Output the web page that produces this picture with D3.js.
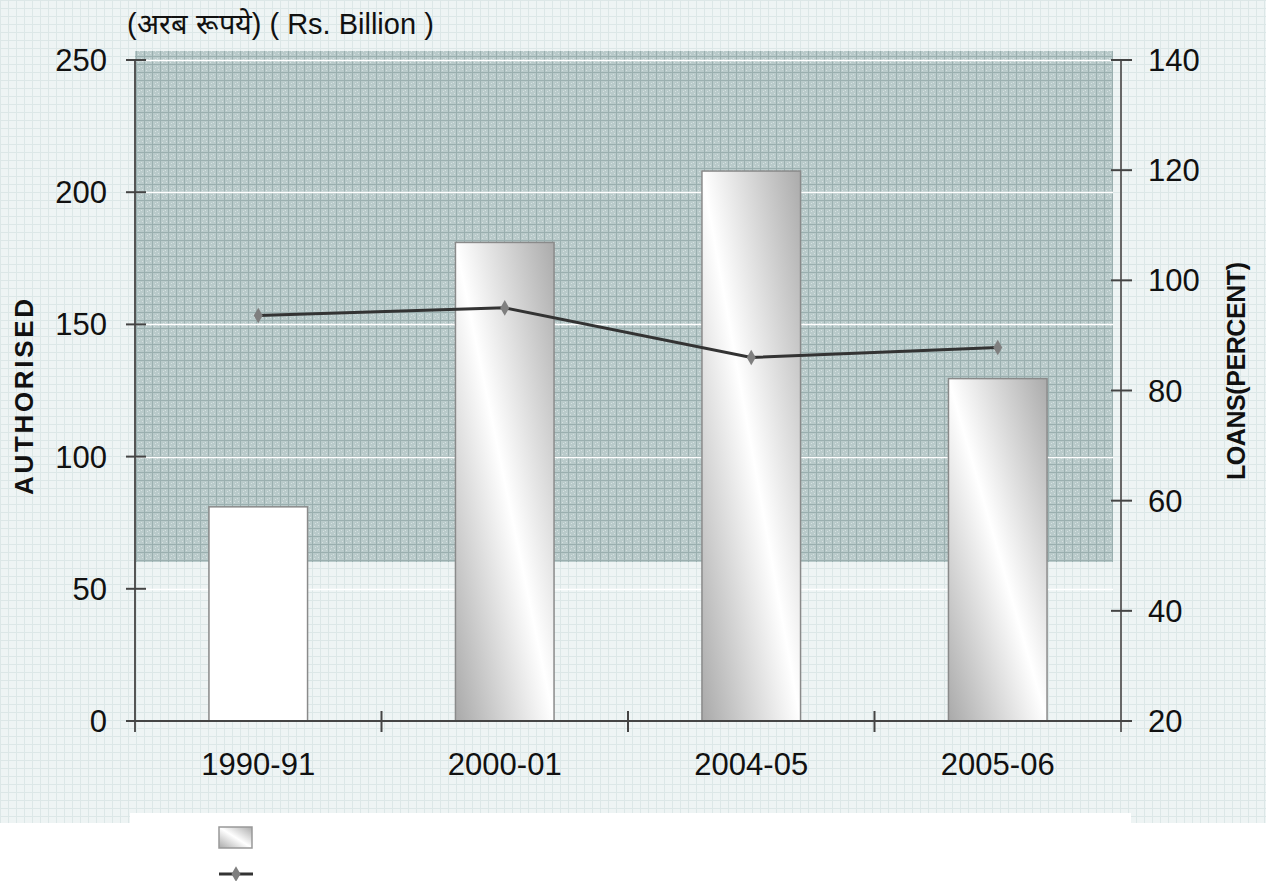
<!DOCTYPE html>
<html>
<head>
<meta charset="utf-8">
<script src="https://cdn.jsdelivr.net/npm/d3@7"></script>
<style>
  body { margin: 0; background: #fff; }
  svg { display: block; font-family: "Liberation Sans", Arial, sans-serif; }
</style>
</head>
<body>
<svg id="chart" width="1266" height="881"></svg>
<script>
const width = 1266;
const height = 881;

// data
const years = ["1990-91", "2000-01", "2004-05", "2005-06"];
const authorised = [81, 181, 208, 129.5];
const loansPct = [93.6, 95.0, 86.0, 87.8];
const leftTicks = [0, 50, 100, 150, 200, 250];
const rightTicks = [20, 40, 60, 80, 100, 120, 140];

const svg = d3.select("#chart");
const defs = svg.append("defs");

// light grid paper behind everything
const light = defs.append("pattern")
    .attr("id", "lightGrid")
    .attr("width", 8).attr("height", 8)
    .attr("patternUnits", "userSpaceOnUse");
light.append("rect").attr("width", 8).attr("height", 8).attr("fill", "#eef4f4");
light.append("path").attr("d", "M0 0.5H8M0.5 0V8").attr("stroke", "#dce7e7").attr("stroke-width", 1);

// darker grid inside the plot
const dark = defs.append("pattern")
    .attr("id", "darkGrid")
    .attr("width", 8).attr("height", 8)
    .attr("patternUnits", "userSpaceOnUse");
dark.append("rect").attr("width", 8).attr("height", 8).attr("fill", "#b9caca");
dark.append("path").attr("d", "M0 0.5H8M0.5 0V8").attr("stroke", "#9aafaf").attr("stroke-width", 1);
dark.append("path").attr("d", "M3 3h1v1h-1zM6 5h1v1h-1zM2 6h1v1h-1zM5 2h1v1h-1z").attr("fill", "#d6e1e1");

// shaded bar fill
const grad = defs.append("linearGradient")
    .attr("id", "barGrad")
    .attr("x1", 0).attr("y1", 1).attr("x2", 1).attr("y2", 0);
grad.append("stop").attr("offset", 0).attr("stop-color", "#a9a9a9");
grad.append("stop").attr("offset", 0.5).attr("stop-color", "#ffffff");
grad.append("stop").attr("offset", 1).attr("stop-color", "#ababab");

// background
svg.append("rect").attr("width", width).attr("height", 823).attr("fill", "url(#lightGrid)");
svg.append("rect").attr("x", 130).attr("y", 813).attr("width", 1001).attr("height", 68).attr("fill", "#fff");

const plotLeft = 135, plotRight = 1121;
const x = d3.scaleBand()
    .domain(years)
    .range([plotLeft, plotRight])
    .paddingInner(0.6)
    .paddingOuter(0.3);

const yL = d3.scaleLinear().domain([0, 250]).range([721, 60]);
const yR = d3.scaleLinear().domain([20, 140]).range([721, 60]);

// shaded plot area
svg.append("rect")
    .attr("x", plotLeft).attr("y", 51)
    .attr("width", 1113 - plotLeft).attr("height", 562 - 51)
    .attr("fill", "url(#darkGrid)");

// gridlines
svg.append("g")
    .selectAll("line")
    .data(leftTicks.filter(d => d > 0))
    .join("line")
    .attr("x1", plotLeft).attr("x2", 1113)
    .attr("y1", d => Math.round(yL(d)) + 0.5)
    .attr("y2", d => Math.round(yL(d)) + 0.5)
    .attr("stroke", "#ffffff")
    .attr("stroke-width", 1.5);

// bars
svg.append("g")
    .selectAll("rect")
    .data(years)
    .join("rect")
    .attr("x", d => x(d))
    .attr("width", x.bandwidth())
    .attr("y", (d, i) => yL(authorised[i]))
    .attr("height", (d, i) => yL(0) - yL(authorised[i]))
    .attr("fill", (d, i) => i === 0 ? "#ffffff" : "url(#barGrad)")
    .attr("stroke", "#8a8a8a")
    .attr("stroke-width", 1.5);

// axes (cross ticks like the original)
const axisG = svg.append("g").attr("stroke-width", 2);
axisG.append("line")
    .attr("x1", plotLeft).attr("x2", plotLeft)
    .attr("y1", yL(250)).attr("y2", 732)
    .attr("stroke", "#555");
axisG.append("line")
    .attr("x1", plotRight).attr("x2", plotRight)
    .attr("y1", yR(140)).attr("y2", 732)
    .attr("stroke", "#666");
axisG.append("line")
    .attr("x1", 126).attr("x2", 1131)
    .attr("y1", yL(0)).attr("y2", yL(0))
    .attr("stroke", "#444");

axisG.selectAll(".ltick")
    .data(leftTicks)
    .join("line")
    .attr("class", "ltick")
    .attr("x1", 126).attr("x2", 146)
    .attr("y1", d => yL(d)).attr("y2", d => yL(d))
    .attr("stroke", "#444");

axisG.selectAll(".rtick")
    .data(rightTicks)
    .join("line")
    .attr("class", "rtick")
    .attr("x1", 1111).attr("x2", 1132)
    .attr("y1", d => yR(d)).attr("y2", d => yR(d))
    .attr("stroke", "#444");

const step = x.step();
axisG.selectAll(".xtick")
    .data(years.slice(1))
    .join("line")
    .attr("class", "xtick")
    .attr("x1", d => x(d) - x.paddingInner() * step / 2)
    .attr("x2", d => x(d) - x.paddingInner() * step / 2)
    .attr("y1", yL(0) - 10).attr("y2", yL(0) + 11)
    .attr("stroke", "#444");

// tick labels
svg.append("g")
    .selectAll("text")
    .data(leftTicks)
    .join("text")
    .attr("x", 107)
    .attr("y", d => yL(d) + 11)
    .attr("text-anchor", "end")
    .attr("font-size", 31)
    .attr("fill", "#111")
    .text(d => d);

svg.append("g")
    .selectAll("text")
    .data(rightTicks)
    .join("text")
    .attr("x", 1148)
    .attr("y", d => yR(d) + 11)
    .attr("font-size", 31)
    .attr("fill", "#111")
    .text(d => d);

svg.append("g")
    .selectAll("text")
    .data(years)
    .join("text")
    .attr("x", d => x(d) + x.bandwidth() / 2)
    .attr("y", 775)
    .attr("text-anchor", "middle")
    .attr("font-size", 31)
    .attr("fill", "#111")
    .text(d => d);

// loans line
const line = d3.line()
    .x((d, i) => x(years[i]) + x.bandwidth() / 2)
    .y(d => yR(d));

svg.append("path")
    .datum(loansPct)
    .attr("d", line)
    .attr("fill", "none")
    .attr("stroke", "#333")
    .attr("stroke-width", 3);

const diamond = d3.symbol().type(d3.symbolDiamond).size(70);
svg.append("g")
    .selectAll("path")
    .data(loansPct)
    .join("path")
    .attr("d", diamond)
    .attr("transform", (d, i) => `translate(${x(years[i]) + x.bandwidth() / 2},${yR(d)})`)
    .attr("fill", "#7f7f7f");

// titles
svg.append("text")
    .attr("x", 127).attr("y", 34)
    .attr("font-size", 29)
    .attr("fill", "#111")
    .text("(अरब  रूपये) ( Rs. Billion )");

svg.append("text")
    .attr("transform", "translate(33,397) rotate(-90)")
    .attr("text-anchor", "middle")
    .attr("font-size", 26)
    .attr("font-weight", "bold")
    .attr("textLength", 196)
    .attr("lengthAdjust", "spacing")
    .attr("fill", "#111")
    .text("AUTHORISED");

svg.append("text")
    .attr("transform", "translate(1245,371) rotate(-90)")
    .attr("text-anchor", "middle")
    .attr("font-size", 25)
    .attr("font-weight", "bold")
    .attr("textLength", 218)
    .attr("lengthAdjust", "spacing")
    .attr("fill", "#111")
    .text("LOANS(PERCENT)");

// legend (no labels in the original)
const legend = svg.append("g");
legend.append("rect")
    .attr("x", 219).attr("y", 827)
    .attr("width", 33).attr("height", 21)
    .attr("fill", "url(#barGrad)")
    .attr("stroke", "#999")
    .attr("stroke-width", 1.5);
legend.append("line")
    .attr("x1", 219).attr("x2", 253)
    .attr("y1", 874).attr("y2", 874)
    .attr("stroke", "#333")
    .attr("stroke-width", 3);
legend.append("path")
    .attr("d", diamond)
    .attr("transform", "translate(236,874)")
    .attr("fill", "#7f7f7f");
</script>
</body>
</html>
